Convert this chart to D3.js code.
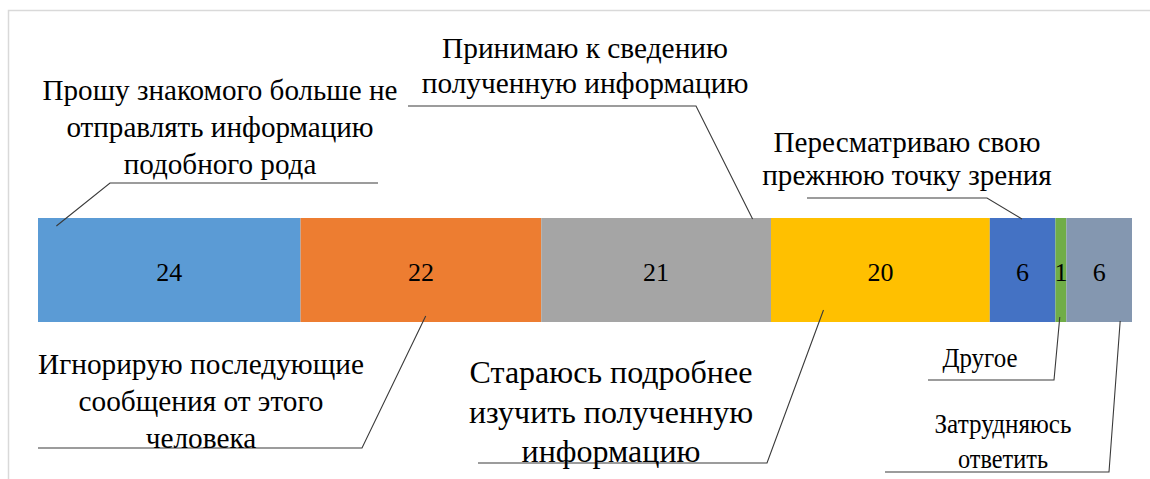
<!DOCTYPE html>
<html>
<head>
<meta charset="utf-8">
<script src="https://cdn.jsdelivr.net/npm/d3@7.9.0/dist/d3.min.js"></script>
<style>
  html, body { margin: 0; padding: 0; background: #fff; }
  #chart { width: 1150px; height: 479px; }
</style>
</head>
<body>
<div id="chart"></div>
<script>
// Data
const categories = [
  'Прошу знакомого больше не отправлять информацию подобного рода',
  'Игнорирую последующие сообщения от этого человека',
  'Принимаю к сведению полученную информацию',
  'Стараюсь подробнее изучить полученную информацию',
  'Пересматриваю свою прежнюю точку зрения',
  'Другое',
  'Затрудняюсь ответить',
];
const values = [24, 22, 21, 20, 6, 1, 6];
const labelLines = [
  ['Прошу знакомого больше не', 'отправлять информацию', 'подобного рода'],
  ['Игнорирую последующие', 'сообщения от этого', 'человека'],
  ['Принимаю к сведению', 'полученную информацию'],
  ['Стараюсь подробнее', 'изучить полученную', 'информацию'],
  ['Пересматриваю свою', 'прежнюю точку зрения'],
  ['Другое'],
  ['Затрудняюсь', 'ответить'],
];
const colors = ['#5b9bd5', '#ed7d31', '#a5a5a5', '#ffc000', '#4472c4', '#70ad47', '#8497b0'];

const FONT = 'Liberation Serif';

// Label layout: text centre, first baseline, line step, target width of first line,
// squeeze (condensed text), leader shelf y / x range / elbow end,
// anchor as fraction of the segment and offset from the bar edge
const labelLayout = [
  { cx: 220, y0: 100, dy: 37, w: 355, shelfY: 183, shelf: [110, 378], elbow: 110, af: 0.07, edge: 'top', off: 8 },
  { cx: 201, y0: 374, dy: 37, w: 326, shelfY: 448, shelf: [38, 362], elbow: 362, af: 0.52, edge: 'bottom', off: -6 },
  { cx: 585, y0: 58, dy: 35, w: 286, shelfY: 106, shelf: [408, 696], elbow: 696, af: 0.92, edge: 'top', off: 1 },
  { cx: 611, y0: 383, dy: 39.5, w: 283, shelfY: 463, shelf: [478, 767], elbow: 767, af: 0.24, edge: 'bottom', off: -12 },
  { cx: 907, y0: 152, dy: 33, w: 267, shelfY: 198, shelf: [807, 987], elbow: 987, af: 0.49, edge: 'top', off: 1 },
  { cx: 980, y0: 367, dy: 35, w: 75, fs: 28, squeeze: [75], shelfY: 380, shelf: [928, 1054], elbow: 1054, af: 0.4, edge: 'bottom', off: -5 },
  { cx: 1003, y0: 433, dy: 35, w: 137, fs: 28, squeeze: [137, 90], shelfY: 472, shelf: [885, 1109], elbow: 1109, af: 0.82, edge: 'bottom', off: -1 },
];

const width = 1150, height = 479;
const svg = d3.select('#chart').append('svg')
  .attr('width', width).attr('height', height);

// chart frame (cropped on right/bottom)
svg.append('rect')
  .attr('x', 8.5).attr('y', 10.5)
  .attr('width', 1160).attr('height', 490)
  .attr('fill', 'none').attr('stroke', '#d9d9d9').attr('stroke-width', 1.5);

const x = d3.scaleLinear().domain([0, d3.sum(values)]).range([38, 1132]);
const y = d3.scaleBand().domain(['all']).range([218, 322]).padding(0);

const starts = d3.cumsum([0, ...values]).slice(0, values.length);
const segs = values.map((v, i) => ({ cat: categories[i], v, s: starts[i], i }));

svg.selectAll('rect.bar').data(segs).enter().append('rect')
  .attr('class', 'bar')
  .attr('x', d => x(d.s))
  .attr('y', y('all'))
  .attr('width', d => x(d.s + d.v) - x(d.s))
  .attr('height', y.bandwidth())
  .attr('fill', d => colors[d.i]);

svg.selectAll('text.val').data(segs).enter().append('text')
  .attr('class', 'val')
  .attr('x', d => x(d.s + d.v / 2))
  .attr('y', y('all') + y.bandwidth() / 2 + 11)
  .attr('text-anchor', 'middle')
  .attr('font-family', FONT)
  .attr('font-size', 26)
  .attr('fill', '#000')
  .text(d => d.v);

// leader lines
const lines = svg.append('g').attr('fill', 'none').attr('stroke', '#3a3a3a').attr('stroke-width', 1.1);
segs.forEach((d, i) => {
  const L = labelLayout[i];
  const ax = x(d.s + d.v * L.af);
  const ay = L.edge === 'top' ? y('all') + L.off : y('all') + y.bandwidth() + L.off;
  const other = L.elbow === L.shelf[0] ? L.shelf[1] : L.shelf[0];
  lines.append('path')
    .attr('d', d3.line()([[other, L.shelfY], [L.elbow, L.shelfY], [ax, ay]]));
});

// category labels, first line sized to the width measured on the picture
segs.forEach((d, i) => {
  const L = labelLayout[i];
  const t = svg.append('text')
    .attr('text-anchor', 'middle')
    .attr('font-family', FONT)
    .attr('font-size', 27)
    .attr('fill', '#000');
  const spans = labelLines[i].map((ln, k) =>
    t.append('tspan').attr('x', L.cx).attr('y', L.y0 + k * L.dy).text(ln));
  if (L.squeeze) {
    t.attr('font-size', L.fs);
    spans.forEach((s, k) => s.attr('textLength', L.squeeze[k]).attr('lengthAdjust', 'spacingAndGlyphs'));
  } else {
    const w = spans[0].node().getComputedTextLength();
    t.attr('font-size', (27 * L.w / w).toFixed(2));
  }
});
</script>
</body>
</html>
